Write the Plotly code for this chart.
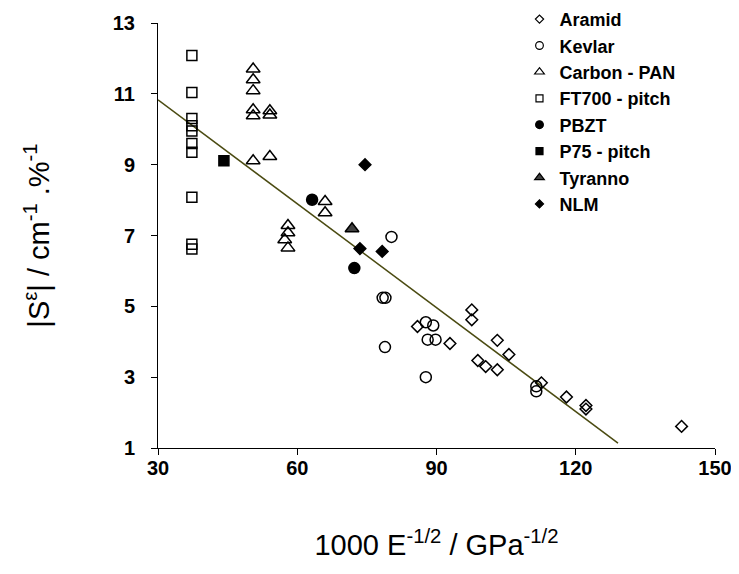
import plotly.graph_objects as go

# --- data ---
aramid_x = [85.9, 92.9, 97.6, 97.6, 103.1, 105.6, 98.9, 100.6, 103.1, 112.6, 118.0, 122.2, 122.2, 142.8]
aramid_y = [4.43, 3.95, 4.90, 4.62, 4.04, 3.64, 3.47, 3.30, 3.21, 2.84, 2.44, 2.20, 2.10, 1.61]

kevlar_x = [80.3, 78.4, 79.0, 78.9, 87.7, 89.3, 88.1, 89.8, 87.7, 111.5, 111.5]
kevlar_y = [6.96, 5.24, 5.24, 3.85, 4.55, 4.46, 4.06, 4.06, 3.00, 2.74, 2.60]

pan_x = [50.5, 50.5, 50.5, 50.5, 50.5, 54.1, 54.1, 50.5, 54.1, 58.0, 58.0, 57.3, 58.0, 66.0, 66.0]
pan_y = [11.70, 11.40, 11.09, 10.55, 10.38, 10.52, 10.40, 9.11, 9.23, 7.28, 7.08, 6.88, 6.65, 7.96, 7.64]

ft700_x = [37.3, 37.3, 37.3, 37.3, 37.3, 37.3, 37.3, 37.3, 37.3, 37.3]
ft700_y = [12.08, 11.04, 10.30, 10.10, 9.95, 9.60, 9.35, 8.08, 6.75, 6.62]

pbzt_x = [63.2, 72.3]
pbzt_y = [8.01, 6.08]

p75_x = [44.2]
p75_y = [9.11]

tyranno_x = [71.8]
tyranno_y = [7.19]

nlm_x = [74.6, 73.5, 78.3]
nlm_y = [9.00, 6.63, 6.55]

fit_x = [30, 129.1]
fit_y = [10.83, 1.14]

FONT = "Arial, Liberation Sans, sans-serif"

series = [
    ("Aramid", aramid_x, aramid_y, "diamond-open", 9, "black"),
    ("Kevlar", kevlar_x, kevlar_y, "circle-open", 11, "black"),
    ("Carbon - PAN", pan_x, pan_y, "triangle-up-open", 12, "black"),
    ("FT700 - pitch", ft700_x, ft700_y, "square-open", 10, "black"),
    ("PBZT", pbzt_x, pbzt_y, "circle", 11, "black"),
    ("P75 - pitch", p75_x, p75_y, "square", 10, "black"),
    ("Tyranno", tyranno_x, tyranno_y, "triangle-up", 12, "#404040"),
    ("NLM", nlm_x, nlm_y, "diamond", 9, "black"),
]

fig = go.Figure()

fig.add_trace(go.Scatter(
    x=fit_x, y=fit_y, mode="lines",
    line=dict(color="#4b4b12", width=1.5),
    showlegend=False, hoverinfo="skip"))

for name, xs, ys, sym, size, col in series:
    fig.add_trace(go.Scatter(
        x=xs, y=ys, mode="markers", name=name, legendgroup=name,
        showlegend=False,
        marker=dict(symbol=sym, size=size, color=col,
                    line=dict(color="black", width=1.5))))

# smaller symbols for the legend, like the original
for name, xs, ys, sym, size, col in series:
    fig.add_trace(go.Scatter(
        x=[None], y=[None], mode="markers", name=name, legendgroup=name,
        marker=dict(symbol=sym, size=size * 0.7, color=col,
                    line=dict(color="black", width=1.2))))

# page body adds an 8px offset, margins compensate for it
fig.update_layout(
    width=739, height=574,
    margin=dict(l=150, r=32, t=15, b=134, autoexpand=False),
    plot_bgcolor="white", paper_bgcolor="white",
    font=dict(family=FONT, color="black"),
    legend=dict(x=0.649, y=1.052, xanchor="left", yanchor="top",
                font=dict(family=FONT, size=18, weight="bold"),
                bgcolor="rgba(0,0,0,0)", itemwidth=30, tracegroupgap=0),
)

fig.update_xaxes(
    range=[30, 150], tick0=30, dtick=30,
    showgrid=False, zeroline=False,
    showline=True, linecolor="black", linewidth=1,
    ticks="outside", ticklen=6, tickcolor="black",
    ticklabelstandoff=-4,
    tickfont=dict(family=FONT, size=20, weight="bold"),
    title=dict(text="1000 E<sup>-1/2</sup> / GPa<sup>-1/2</sup>",
               font=dict(family=FONT, size=29), standoff=56),
)

fig.update_yaxes(
    range=[1, 13], tick0=1, dtick=2,
    showgrid=False, zeroline=False,
    showline=True, linecolor="black", linewidth=1,
    ticks="outside", ticklen=6, tickcolor="black",
    ticklabelstandoff=12,
    tickfont=dict(family=FONT, size=20, weight="bold"),
    title=dict(text="|S<sup>ε</sup>| / cm<sup>-1</sup> .%<sup>-1</sup>",
               font=dict(family=FONT, size=29), standoff=54),
)

fig.write_html("out.html")
